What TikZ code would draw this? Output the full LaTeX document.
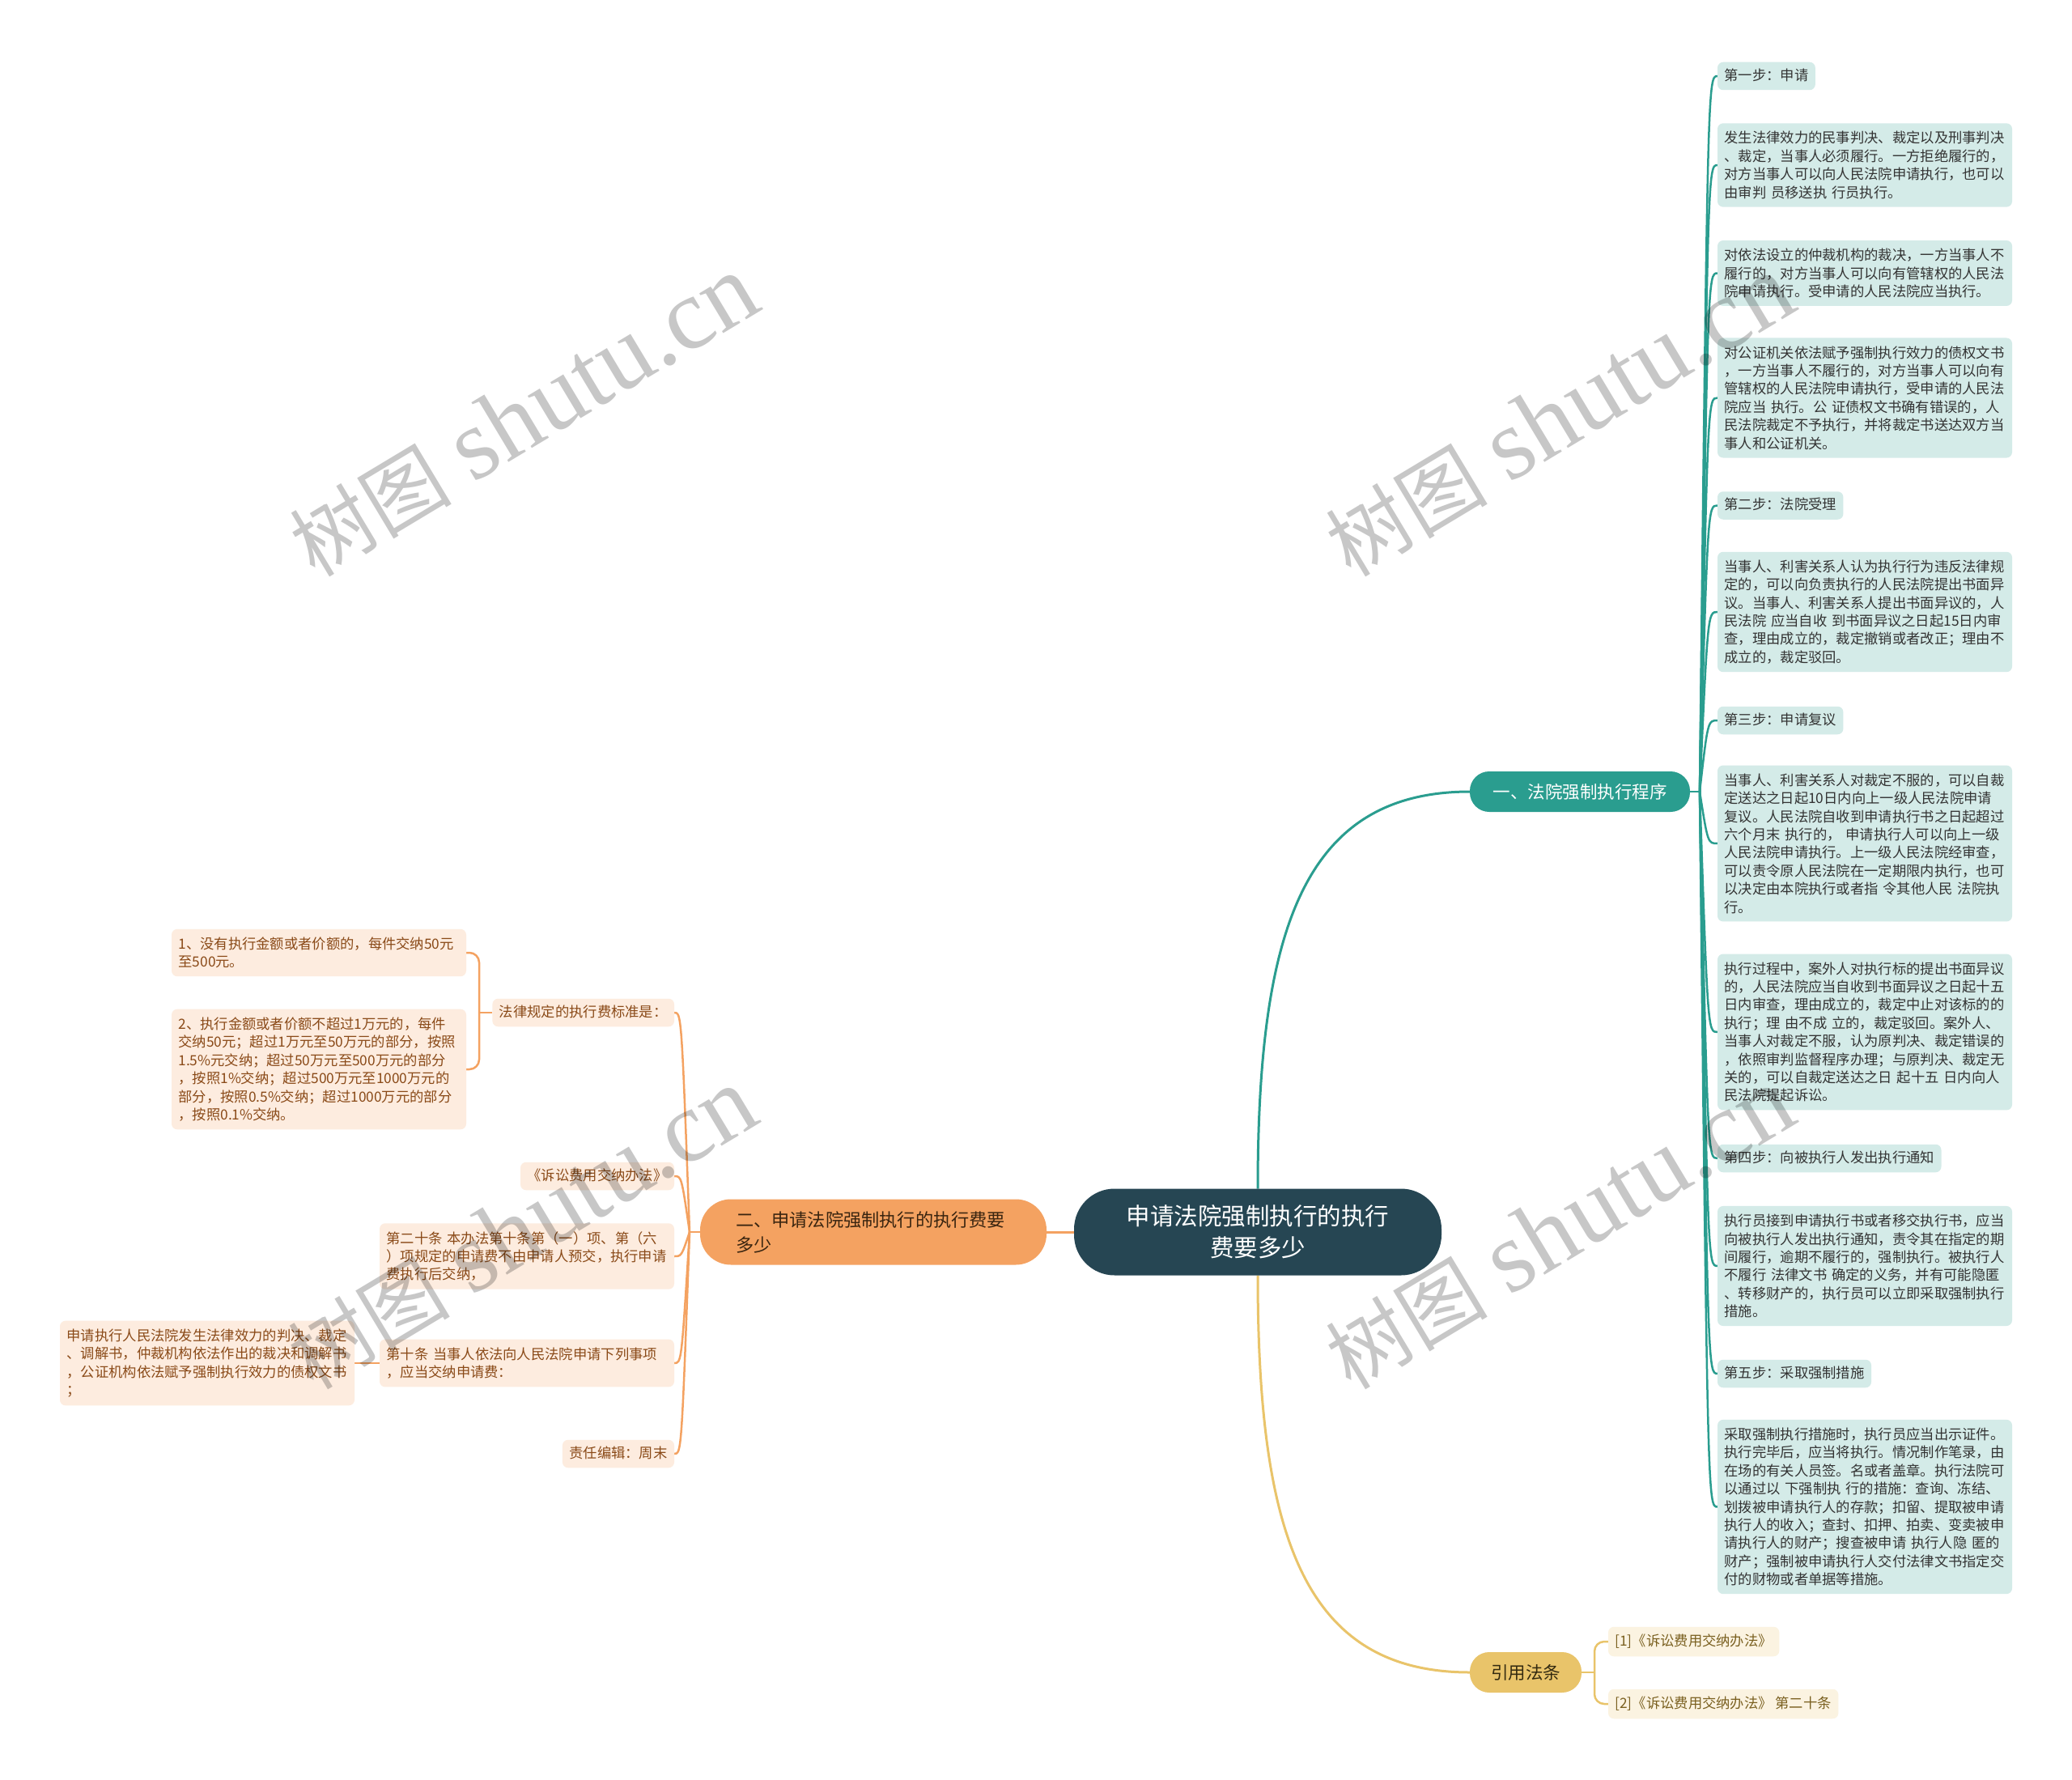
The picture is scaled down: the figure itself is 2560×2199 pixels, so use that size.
\documentclass[tikz,border=0pt]{standalone}
\usepackage{fontspec}
\setmainfont{Noto Sans CJK SC}
\newfontfamily\wmlatin{Liberation Serif}
\usetikzlibrary{backgrounds}
\definecolor{cdark}{HTML}{264653}
\definecolor{cteal}{HTML}{2A9D8F}
\definecolor{cyel}{HTML}{E9C46A}
\definecolor{corg}{HTML}{F4A261}
\definecolor{lteal}{HTML}{D4EBE8}
\definecolor{lorg}{HTML}{FDECDF}
\definecolor{lyel}{HTML}{FBF3E1}
\definecolor{ttxt}{HTML}{333333}
\definecolor{otxt}{HTML}{8A4A18}
\definecolor{ytxt}{HTML}{7A6020}
\definecolor{obtxt}{HTML}{3A2510}
\definecolor{ybtxt}{HTML}{332A10}
\newcommand{\fsmall}{\fontsize{17.3pt}{22.4pt}\selectfont}
\newcommand{\fbranch}{\fontsize{21.5pt}{30pt}\selectfont}
\newcommand{\forgb}{\fontsize{22.2pt}{31pt}\selectfont}
\newcommand{\fcentral}{\fontsize{29.5pt}{39pt}\selectfont}
\newcommand{\wmtext}{{\fontsize{100pt}{110pt}\selectfont 树图}\hspace{28pt}{\wmlatin\fontsize{125pt}{130pt}\selectfont shutu.cn}}
\begin{document}
\begin{tikzpicture}[x=1pt,y=-1pt,
  every node/.style={inner sep=0pt, outer sep=0pt},
  tbox/.style={fill=lteal, rounded corners=7pt, text=ttxt, font=\fsmall, inner xsep=8.5pt, inner ysep=10pt, align=left, text width=347pt, anchor=west},
  tlab/.style={fill=lteal, rounded corners=7pt, text=ttxt, font=\fsmall, inner xsep=8.5pt, inner ysep=9pt, text height=13.5pt, text depth=3pt, anchor=west},
  obox/.style={fill=lorg, rounded corners=7pt, text=otxt, font=\fsmall, inner xsep=8.5pt, inner ysep=10pt, align=left, text width=347pt, anchor=east},
  olab/.style={fill=lorg, rounded corners=7pt, text=otxt, font=\fsmall, inner xsep=8.5pt, inner ysep=9pt, text height=13.5pt, text depth=3pt, anchor=east},
  ylab/.style={fill=lyel, rounded corners=7pt, text=ytxt, font=\fsmall, inner xsep=8.5pt, inner ysep=10pt, text height=13.5pt, text depth=3pt, anchor=west},
  tline/.style={draw=cteal, line width=2.5pt},
  oline/.style={draw=corg, line width=2.5pt},
  yline/.style={draw=cyel, line width=2.5pt},
  wm/.style={rotate=31, text=black, opacity=0.22}
]
\useasboundingbox (0,0) rectangle (2560,2199);

% central and branches
\node[fill=cdark, text=white, font=\fcentral, align=center, minimum width=454pt, minimum height=107pt, rounded corners=50pt] (c) at (1554,1522) {申请法院强制执行的执行\\费要多少};
\node[fill=cteal, text=white, font=\fbranch, minimum width=272pt, minimum height=50pt, rounded corners=24pt] (b1) at (1952,978) {一、法院强制执行程序};
\node[fill=corg, text=obtxt, font=\forgb, align=left, text width=340pt, minimum width=428pt, minimum height=81pt, rounded corners=38pt] (b2) at (1079,1522) {二、申请法院强制执行的执行费要\\多少};
\node[fill=cyel, text=ybtxt, font=\fbranch, minimum width=138pt, minimum height=50pt, rounded corners=24pt] (b3) at (1885,2066) {引用法条};

% right column
\node[tlab] (t1) at (2122,94) {第一步：申请};
\node[tbox] (t2) at (2122,204) {发生法律效力的民事判决、裁定以及刑事判决\\、裁定，当事人必须履行。一方拒绝履行的，\\对方当事人可以向人民法院申请执行，也可以\\由审判 员移送执 行员执行。};
\node[tbox] (t3) at (2122,337.5) {对依法设立的仲裁机构的裁决，一方当事人不\\履行的，对方当事人可以向有管辖权的人民法\\院申请执行。受申请的人民法院应当执行。};
\node[tbox] (t4) at (2122,491.5) {对公证机关依法赋予强制执行效力的债权文书\\，一方当事人不履行的，对方当事人可以向有\\管辖权的人民法院申请执行，受申请的人民法\\院应当 执行。公 证债权文书确有错误的，人\\民法院裁定不予执行，并将裁定书送达双方当\\事人和公证机关。};
\node[tlab] (t5) at (2122,624.5) {第二步：法院受理};
\node[tbox] (t6) at (2122,756) {当事人、利害关系人认为执行行为违反法律规\\定的，可以向负责执行的人民法院提出书面异\\议。当事人、利害关系人提出书面异议的，人\\民法院 应当自收 到书面异议之日起15日内审\\查，理由成立的，裁定撤销或者改正；理由不\\成立的，裁定驳回。};
\node[tlab] (t7) at (2122,890) {第三步：申请复议};
\node[tbox] (t8) at (2122,1042) {当事人、利害关系人对裁定不服的，可以自裁\\定送达之日起10日内向上一级人民法院申请\\复议。人民法院自收到申请执行书之日起超过\\六个月末 执行的， 申请执行人可以向上一级\\人民法院申请执行。上一级人民法院经审查，\\可以责令原人民法院在一定期限内执行，也可\\以决定由本院执行或者指 令其他人民 法院执\\行。};
\node[tbox] (t9) at (2122,1275) {执行过程中，案外人对执行标的提出书面异议\\的，人民法院应当自收到书面异议之日起十五\\日内审查，理由成立的，裁定中止对该标的的\\执行；理 由不成 立的，裁定驳回。案外人、\\当事人对裁定不服，认为原判决、裁定错误的\\，依照审判监督程序办理；与原判决、裁定无\\关的，可以自裁定送达之日 起十五 日内向人\\民法院提起诉讼。};
\node[tlab] (t10) at (2122,1431) {第四步：向被执行人发出执行通知};
\node[tbox] (t11) at (2122,1564) {执行员接到申请执行书或者移交执行书，应当\\向被执行人发出执行通知，责令其在指定的期\\间履行，逾期不履行的，强制执行。被执行人\\不履行 法律文书 确定的义务，并有可能隐匿\\、转移财产的，执行员可以立即采取强制执行\\措施。};
\node[tlab] (t12) at (2122,1697) {第五步：采取强制措施};
\node[tbox] (t13) at (2122,1861.5) {采取强制执行措施时，执行员应当出示证件。\\执行完毕后，应当将执行。情况制作笔录，由\\在场的有关人员签。名或者盖章。执行法院可\\以通过以 下强制执 行的措施：查询、冻结、\\划拨被申请执行人的存款；扣留、提取被申请\\执行人的收入；查封、扣押、拍卖、变卖被申\\请执行人的财产；搜查被申请 执行人隐 匿的\\财产；强制被申请执行人交付法律文书指定交\\付的财物或者单据等措施。};

% left column
\node[olab] (oa) at (833,1251) {法律规定的执行费标准是：};
\node[obox] (oa1) at (576,1177) {1、没有执行金额或者价额的，每件交纳50元\\至500元。};
\node[obox] (oa2) at (576,1321) {2、执行金额或者价额不超过1万元的，每件\\交纳50元；超过1万元至50万元的部分，按照\\1.5\%元交纳；超过50万元至500万元的部分\\，按照1\%交纳；超过500万元至1000万元的\\部分，按照0.5\%交纳；超过1000万元的部分\\，按照0.1\%交纳。};
\node[olab] (ob) at (833,1453) {《诉讼费用交纳办法》};
\node[obox] (oc) at (833,1552) {第二十条 本办法第十条第（一）项、第（六\\）项规定的申请费不由申请人预交，执行申请\\费执行后交纳，};
\node[obox] (od) at (833,1684) {第十条 当事人依法向人民法院申请下列事项\\，应当交纳申请费：};
\node[obox] (od1) at (438,1684) {申请执行人民法院发生法律效力的判决、裁定\\、调解书，仲裁机构依法作出的裁决和调解书\\，公证机构依法赋予强制执行效力的债权文书\\；};
\node[olab] (oe) at (833,1796) {责任编辑：周末};

% citations
\node[ylab] (y1) at (1987,2028) {[1]《诉讼费用交纳办法》};
\node[ylab] (y2) at (1987,2105) {[2]《诉讼费用交纳办法》 第二十条};

\coordinate (J1) at (2100,978);
\coordinate (tx) at (2110,0);
\coordinate (J2) at (852,1522);
\coordinate (ox) at (842,0);
\coordinate (Ja) at (592,1251);
\coordinate (J3) at (1970,2066);

\begin{scope}[on background layer]
\fill[white] (0,0) rectangle (2560,2199);
\draw[tline, line width=3pt] (c.north) .. controls (1554,1150) and (1610,978) .. (b1.west);
\draw[yline, line width=3pt] (c.south) .. controls (1554,1895) and (1610,2066) .. (b3.west);
\draw[oline, line width=3pt] (c.west) -- (b2.east);
\draw[tline] (b1.east) -- (J1);
\foreach \n in {t1,t2,t3,t4,t5,t6,t7,t8,t9,t10,t11,t12,t13}
  \draw[tline] (J1) .. controls (tx |- \n.west) and (tx |- \n.west) .. (\n.west);
\draw[oline] (b2.west) -- (J2);
\foreach \n in {oa,ob,oc,od,oe}
  \draw[oline] (J2) .. controls (ox |- \n.east) and (ox |- \n.east) .. (\n.east);
\draw[oline] (oa.west) -- (Ja);
\draw[oline, rounded corners=12pt] (Ja) |- (oa1.east);
\draw[oline, rounded corners=12pt] (Ja) |- (oa2.east);
\draw[oline] (od.west) -- (od1.east);
\draw[yline] (b3.east) -- (J3);
\draw[yline, rounded corners=12pt] (J3) |- (y1.west);
\draw[yline, rounded corners=12pt] (J3) |- (y2.west);
\end{scope}

% watermarks
\node[wm] (w1) at (647,514) {\wmtext};
\node[wm] (w2) at (1927,514) {\wmtext};
\node[wm] (w3) at (645,1518) {\wmtext};
\node[wm] (w4) at (1927,1518) {\wmtext};
\end{tikzpicture}
\end{document}
